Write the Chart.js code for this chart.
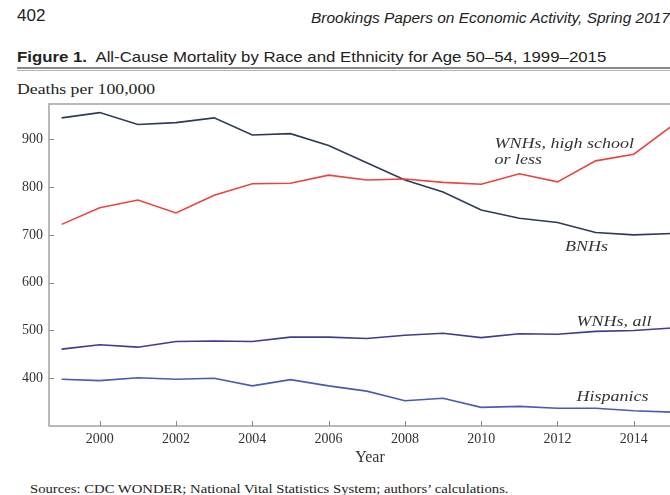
<!DOCTYPE html>
<html>
<head>
<meta charset="utf-8">
<script src="https://cdn.jsdelivr.net/npm/chart.js@4.4.1/dist/chart.umd.min.js"></script>
<style>
    body { margin: 0; width: 670px; height: 495px; overflow: hidden; background: #fff; position: relative; }
    .texto { position: absolute; white-space: nowrap; color: #222; transform-origin: 0 0; }
    #myChart { position: absolute; left: 0; top: 0; }
</style>
</head>
<body>
<div class="texto" style="left:17px; top:6px; font:17px 'Liberation Sans', sans-serif;">402</div>
<div class="texto" style="left:311px; top:9px; font:italic 15px 'Liberation Sans', sans-serif; transform:scaleX(1.03);">Brookings Papers on Economic Activity, Spring 2017</div>
<div class="texto" style="left:17px; top:48px; font:15px 'Liberation Sans', sans-serif; transform:scaleX(1.12);"><b>Figure 1.</b>&nbsp; All-Cause Mortality by Race and Ethnicity for Age 50–54, 1999–2015</div>
<div style="position:absolute; left:17px; top:67px; width:700px; height:2px; background:#8a8a8a;"></div>
<div style="position:absolute; left:17px; top:70px; width:700px; height:1px; background:#b5b5b5;"></div>
<div class="texto" style="left:17px; top:81px; font:15px 'Liberation Serif', serif; transform:scaleX(1.18);">Deaths per 100,000</div>
<div class="texto" style="left:30px; top:481px; font:13px 'Liberation Serif', serif; transform:scaleX(1.13);">Sources: CDC WONDER; National Vital Statistics System; authors’ calculations.</div>

<canvas id="myChart" width="691" height="495"></canvas>

<script>
// dados (mortes por 100.000, idade 50-54)
var anos = [1999, 2000, 2001, 2002, 2003, 2004, 2005, 2006, 2007, 2008, 2009, 2010, 2011, 2012, 2013, 2014, 2015]
var wnhsEnsinoMedio = [722, 757, 773, 746, 783, 807, 808, 825, 815, 817, 810, 806, 828, 811, 855, 869, 928]
var bnhs = [945, 956, 931, 935, 945, 909, 912, 887, 851, 815, 790, 752, 735, 726, 705, 700, 703]
var wnhsTodos = [461, 470, 465, 477, 478, 477, 486, 486, 483, 490, 494, 485, 493, 492, 498, 500, 505]
var hispanicos = [398, 395, 401, 398, 400, 384, 397, 384, 373, 353, 358, 339, 341, 337, 337, 332, 329]

var ticksX = [2000, 2002, 2004, 2006, 2008, 2010, 2012, 2014]
var ticksY = [400, 500, 600, 700, 800, 900]

// rotulos das linhas (ancorados em ano / valor)
var rotulos = ['WNHs, high school', 'or less', 'BNHs', 'WNHs, all', 'Hispanics']
var rotuloAno = [2010.35, 2010.35, 2012.2, 2012.5, 2012.5]
var rotuloValor = [890, 857, 675, 518, 361]

function pontos(serie) {
    return anos.map(function (a, i) { return { x: a, y: serie[i] } })
}

const molduraPlugin = {
    id: 'moldura',
    afterDraw(chart) {
        const ctx = chart.ctx
        const area = chart.chartArea
        const sx = chart.scales.x
        const sy = chart.scales.y
        ctx.save()
        ctx.strokeStyle = '#a3a3a3'
        ctx.lineWidth = 1.5
        ctx.strokeRect(area.left, area.top, area.right - area.left, area.bottom - area.top)

        // ticks para dentro
        ctx.strokeStyle = '#8a8a8a'
        ctx.lineWidth = 1
        ctx.beginPath()
        ticksX.forEach(function (t) {
            var px = Math.round(sx.getPixelForValue(t)) + 0.5
            ctx.moveTo(px, area.bottom)
            ctx.lineTo(px, area.bottom - 5)
        })
        ticksY.forEach(function (t) {
            var py = Math.round(sy.getPixelForValue(t)) + 0.5
            ctx.moveTo(area.left, py)
            ctx.lineTo(area.left + 5, py)
        })
        ctx.stroke()

        ctx.fillStyle = '#333'
        ctx.font = 'italic 15px "Liberation Serif", serif'
        ctx.textAlign = 'left'
        ctx.textBaseline = 'middle'
        for (let i = 0; i < rotulos.length; i++) {
            ctx.save()
            ctx.translate(sx.getPixelForValue(rotuloAno[i]), sy.getPixelForValue(rotuloValor[i]))
            ctx.scale(1.2, 1)
            ctx.fillText(rotulos[i], 0, 0)
            ctx.restore()
        }
        ctx.restore()
    }
}

const config = {
    type: 'line',
    data: {
        datasets: [{
            label: 'WNHs, high school or less',
            data: pontos(wnhsEnsinoMedio),
            borderColor: '#e8453c',
            borderWidth: 1.6
        }, {
            label: 'BNHs',
            data: pontos(bnhs),
            borderColor: '#2e3a56',
            borderWidth: 1.6
        }, {
            label: 'WNHs, all',
            data: pontos(wnhsTodos),
            borderColor: '#3c3d8e',
            borderWidth: 1.6
        }, {
            label: 'Hispanics',
            data: pontos(hispanicos),
            borderColor: '#4a5cae',
            borderWidth: 1.6
        }]
    },
    options: {
        responsive: false,
        animation: false,
        layout: { padding: { top: 104, left: 0, right: 0, bottom: 28 } },
        elements: { point: { radius: 0 }, line: { tension: 0 } },
        plugins: { legend: { display: false }, tooltip: { enabled: false } },
        scales: {
            x: {
                type: 'linear',
                min: 1998.67,
                max: 2015.5,
                afterBuildTicks: function (axis) { axis.ticks = ticksX.map(function (v) { return { value: v } }) },
                afterFit: function (axis) { axis.height = 41 },
                grid: { display: false, drawTicks: false },
                border: { display: false },
                ticks: {
                    padding: 5,
                    color: '#333',
                    font: { family: 'Liberation Serif', size: 14 },
                    callback: function (v) { return String(v) }
                },
                title: {
                    display: true,
                    text: 'Year',
                    color: '#333',
                    padding: 0,
                    font: { family: 'Liberation Serif', size: 16 }
                }
            },
            y: {
                min: 300,
                max: 974,
                afterBuildTicks: function (axis) { axis.ticks = ticksY.map(function (v) { return { value: v } }) },
                afterFit: function (axis) { axis.width = 49 },
                grid: { display: false, drawTicks: false },
                border: { display: false },
                ticks: {
                    padding: 6,
                    color: '#333',
                    font: { family: 'Liberation Serif', size: 14 }
                }
            }
        }
    },
    plugins: [molduraPlugin]
}

const myChart = new Chart(document.getElementById('myChart'), config)
</script>
</body>
</html>
